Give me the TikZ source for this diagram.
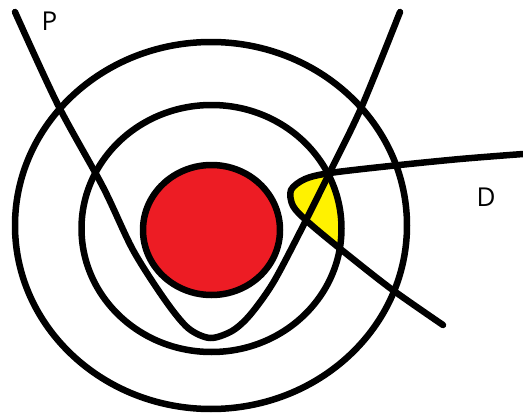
\documentclass[tikz,border=0pt]{standalone}
\usepackage{fontspec}
\setmainfont{Open Sans}
\definecolor{pred}{HTML}{ED1C24}
\definecolor{pyellow}{HTML}{FFF200}
\tikzset{
  stroke/.style={line width=6.5pt, line cap=round, line join=round},
  lbl/.style={font=\fontsize{26}{30}\selectfont, inner sep=0pt, text=black}
}
\begin{document}
\begin{tikzpicture}[x=1pt,y=-1pt]
\useasboundingbox[fill=white] (0,0) rectangle (523,415);
% yellow region
\begin{scope}
  \clip (211.5,228.5) ellipse [x radius=130, y radius=123.5];
  \fill[pyellow] plot[smooth, tension=0.5] coordinates {(523,154) (460,159) (390,166) (330,173) (305,179) (291,190) (293,206) (308,222) (338,247) (390,288) (443,325)} -- cycle;
\end{scope}
% circles
\draw[stroke] (211,225.5) ellipse [x radius=196, y radius=183.5];
\draw[stroke] (211.5,228.5) ellipse [x radius=130, y radius=123.5];
\filldraw[stroke, fill=pred] (211.5,230) ellipse [x radius=68.5, y radius=65];
% P curve
\draw[stroke] plot[smooth, tension=0.5] coordinates {(15,12) (58,105) (103,187) (133,250) (165,300) (188,328) (210,338) (232,331) (250,315) (273,283) (300,232) (330,172) (362,106) (400,12)};
% D curve
\draw[stroke] plot[smooth, tension=0.5] coordinates {(523,154) (460,159) (390,166) (330,173) (305,179) (291,190) (293,206) (308,222) (338,247) (390,288) (443,325)};
% labels
\node[lbl] (P) at (49.5,21.5) {P};
\node[lbl] (D) at (486,197) {D};
\end{tikzpicture}
\end{document}
